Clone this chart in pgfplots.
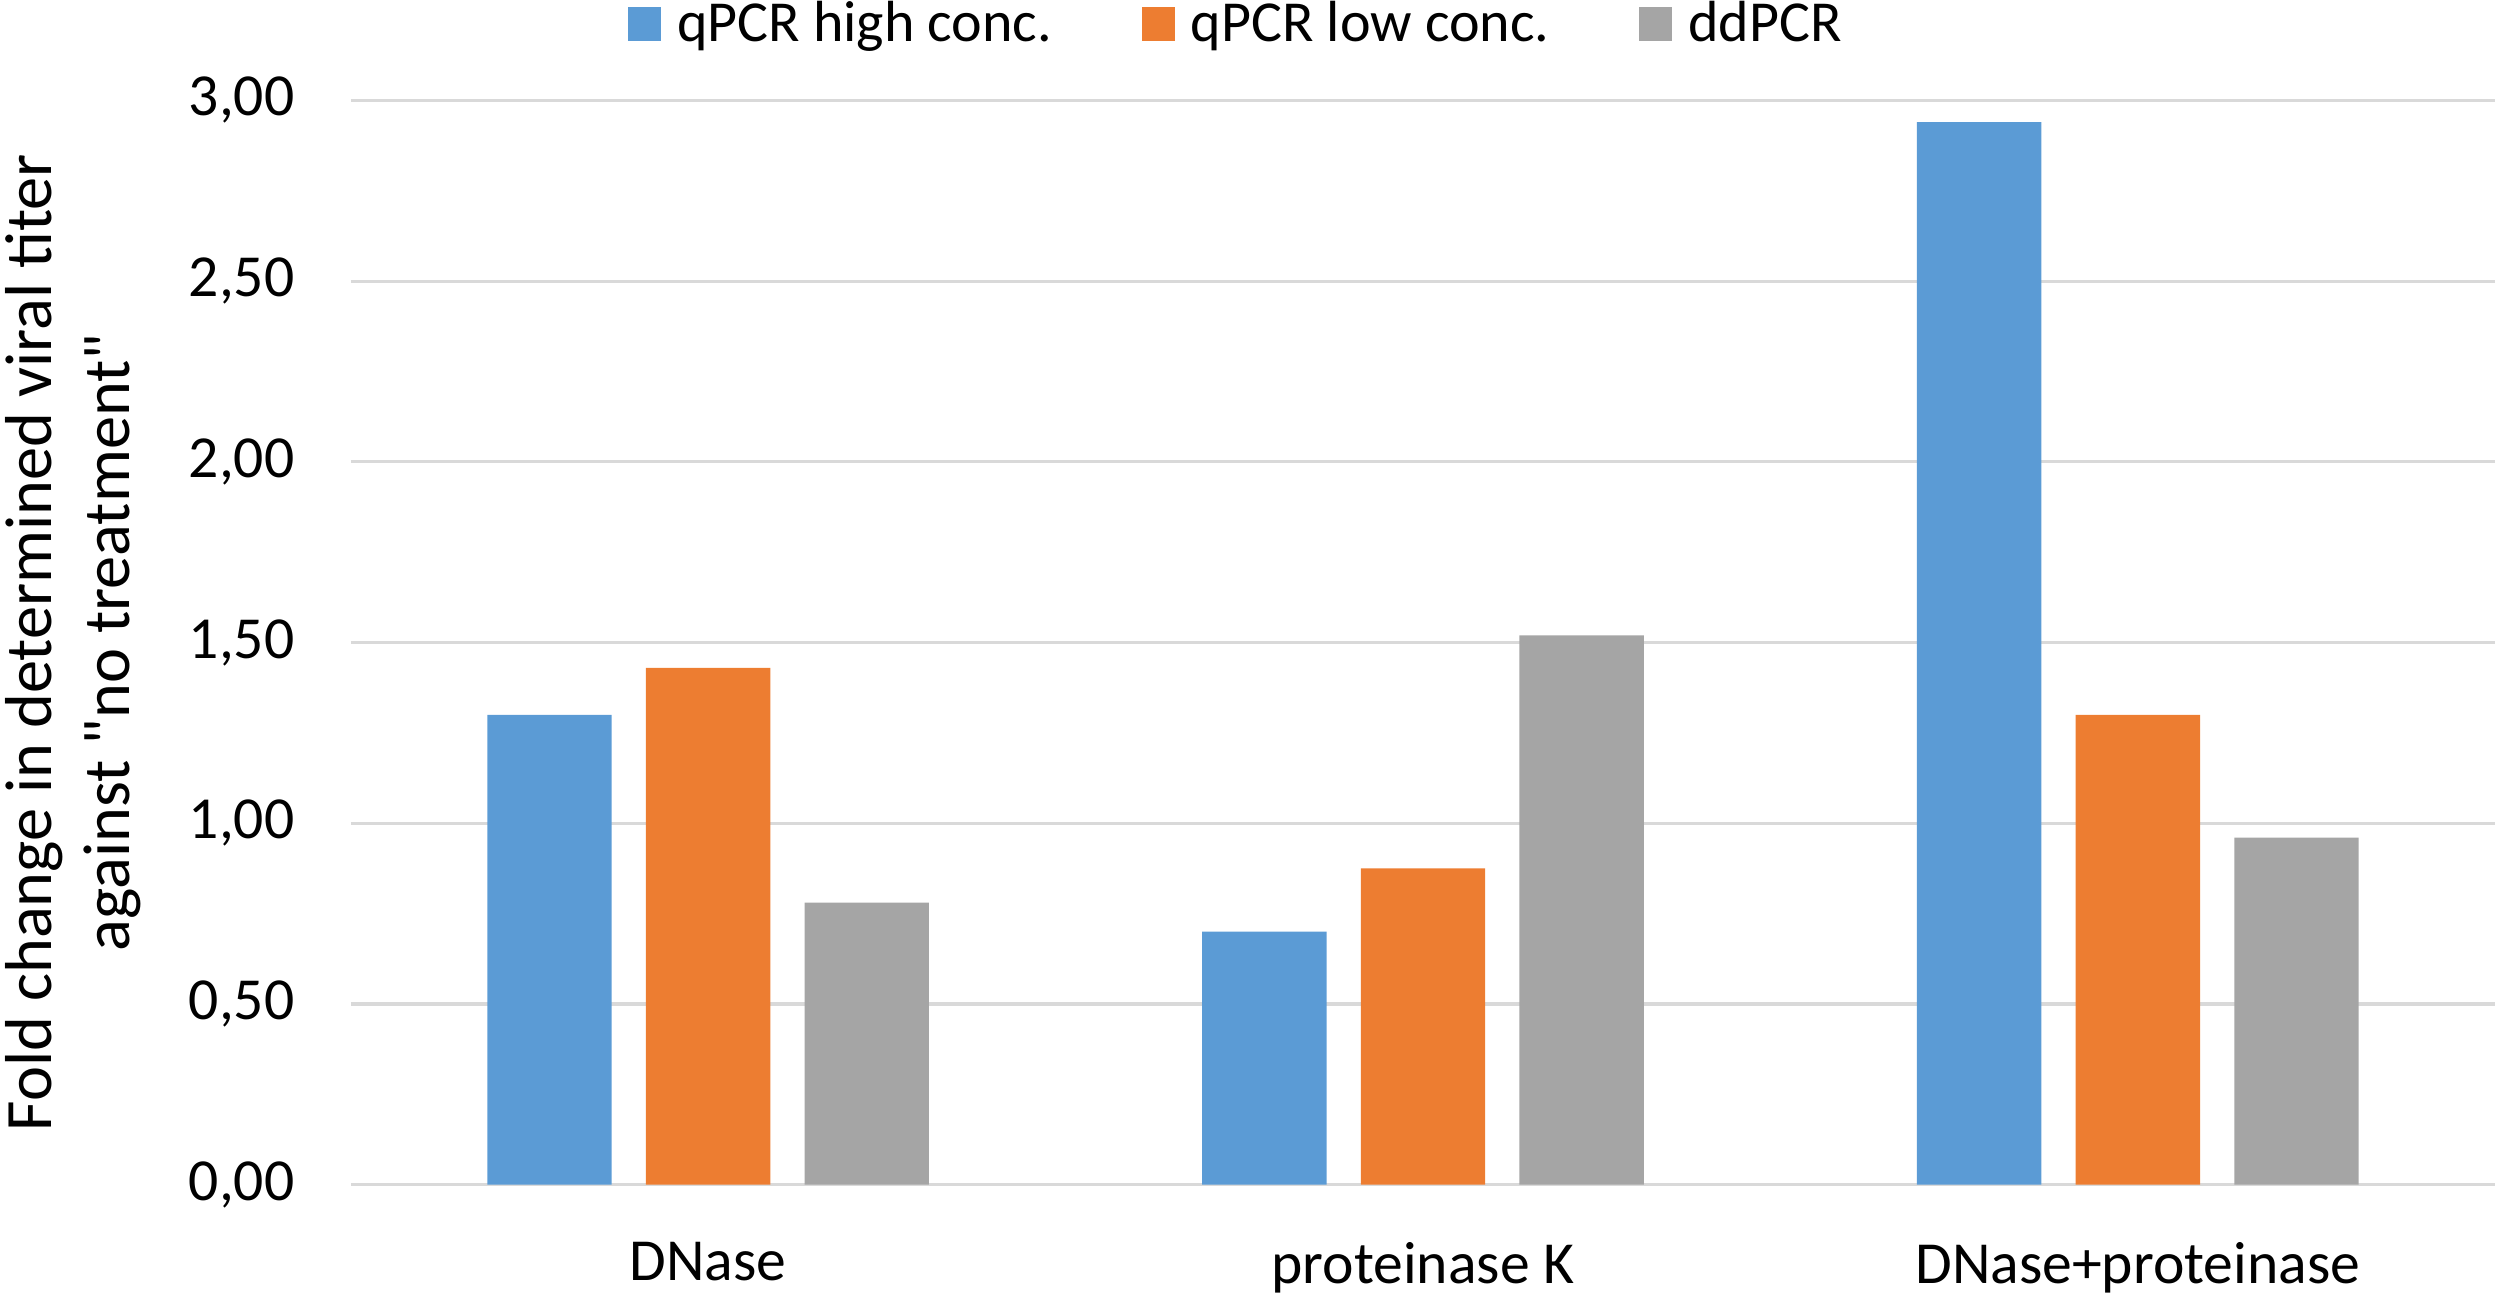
\documentclass[border=0pt]{standalone}
\usepackage{pgfplots}
\pgfplotsset{compat=1.18}
\usepackage{fontspec}
\setmainfont{Carlito}[Ligatures=TeXOff]
\definecolor{qhigh}{HTML}{5B9BD5}
\definecolor{qlow}{HTML}{ED7D31}
\definecolor{ddpcr}{HTML}{A5A5A5}
\definecolor{gridc}{HTML}{D9D9D9}

\begin{document}
\begin{tikzpicture}
  \begin{axis}[
      name=ax,
      scale only axis,
      width=672.5pt, height=340pt,
      ybar=10.75pt,
      bar width=39pt,
      xmin=-0.5, xmax=2.5,
      ymin=0, ymax=3,
      xtick=data,
      xticklabels={DNase, proteinase K, DNase+proteinase},
      ytick={0,0.5,...,3},
      axis line style={draw=none},
      major tick length=0pt,
      ymajorgrids=true,
      grid style={gridc, line width=1pt},
      tick label style={font=\fontsize{18.7}{22}\selectfont},
      yticklabel style={inner sep=0pt, anchor=east, xshift=-17.5pt,
        /pgf/number format/.cd, fixed, fixed zerofill, precision=2,
        use comma, assume math mode=true},
      xticklabel style={inner sep=0pt, anchor=north, yshift=-18pt},
      ylabel={Fold change in determined viral titer\\against "no treatment"},
      every axis y label/.style={at={(axis description cs:-0.1613,0.5)},
        rotate=90, anchor=north, inner sep=0pt, align=center,
        font=\fontsize{20.8}{24.5}\selectfont},
      legend columns=-1,
      legend style={draw=none, fill=none, inner sep=0pt,
        at={(axis description cs:0.4122,1)}, anchor=center, yshift=24pt,
        font=\fontsize{18.2}{22}\selectfont,
        nodes={inner sep=0pt},
        /tikz/every odd column/.style={column sep=5pt},
        /tikz/every even column/.style={column sep=28pt}},
      legend image code/.code={\fill[#1] (0pt,-5.25pt) rectangle (10.5pt,5.25pt);},
    ]
    \addplot[fill=qhigh, draw=none] coordinates {(0,1.30) (1,0.70) (2,2.94)};
    \addplot[fill=qlow, draw=none] coordinates {(0,1.43) (1,0.875) (2,1.30)};
    \addplot[fill=ddpcr, draw=none] coordinates {(0,0.78) (1,1.52) (2,0.96)};
    \legend{qPCR high conc., qPCR low conc., ddPCR}
  \end{axis}
  \pgfresetboundingbox
  \path[use as bounding box] ([shift={(-110pt,-35pt)}]ax.south west)
    rectangle ([shift={(1.5pt,31.5pt)}]ax.north east);
\end{tikzpicture}
\end{document}
